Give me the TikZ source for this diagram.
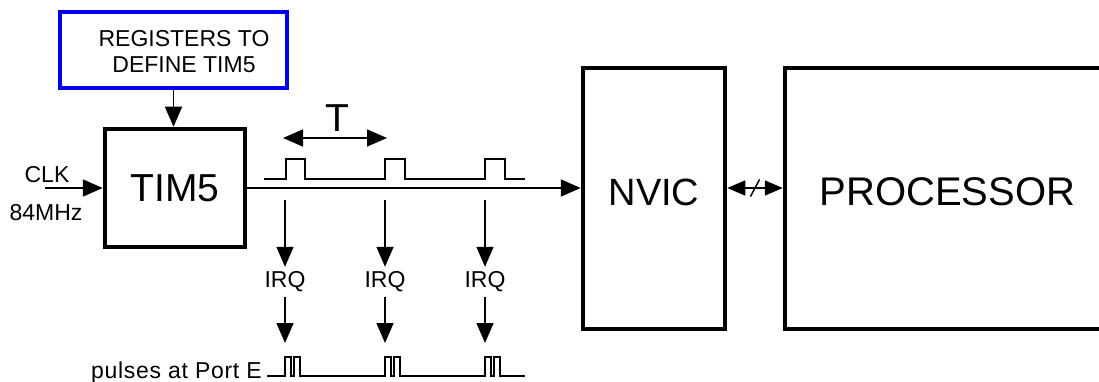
\documentclass[tikz,border=0pt]{standalone}
\usepackage{fontspec}
\setmainfont{Liberation Sans}
\usetikzlibrary{arrows.meta}
\definecolor{regblue}{RGB}{0,0,235}
\begin{document}
\begin{tikzpicture}[x=1pt,y=-1pt,
  blockbox/.style={draw, line width=4.5pt, inner sep=0pt},
  wire/.style={line width=1.5pt},
  arr/.style={wire, -{Triangle[length=20pt,width=17pt]}},
  arrboth/.style={wire, {Triangle[length=20pt,width=17pt]}-{Triangle[length=20pt,width=17pt]}},
  busarr/.style={wire, {Triangle[length=18pt,width=15pt]}-{Triangle[length=18pt,width=15pt]}},
  smalltext/.style={font=\fontsize{23}{26}\selectfont},
  bigtext/.style={font=\fontsize{39}{40}\selectfont}
]
\useasboundingbox (0,0) rectangle (1099,382);
\clip (0,0) rectangle (1099,382);

% blocks
\node[blockbox, draw=regblue, minimum width=227pt, minimum height=76pt] (regs) at (173.5,50) {};
\node[smalltext, align=center] (regstxt) at (184,52) {REGISTERS TO\\DEFINE TIM5};
\node[blockbox, bigtext, minimum width=140pt, minimum height=118pt] (tim) at (175,188) {TIM5};
\node[blockbox, font=\fontsize{38}{40}\selectfont, text depth=13pt, minimum width=142pt, minimum height=261pt] (nvic) at (654,198.5) {NVIC};
\node[blockbox, font=\fontsize{40}{40}\selectfont, text depth=13pt, minimum width=325pt, minimum height=261pt] (proc) at (947.5,198.5) {PROCESSOR};

% clock input
\node[smalltext] (clk) at (47,175) {CLK};
\node[smalltext] (mhz) at (46,213) {84MHz};
\coordinate (clkin) at (45,188);
\draw[arr] (clkin) -- (clkin -| tim.west);

% registers to TIM5
\draw[arr] (regs.south) -- (regs.south |- tim.north);

% main line and bus
\draw[arr] (tim.east) -- (tim.east -| nvic.west);
\draw[busarr] (tim.east -| nvic.east) -- coordinate (bus) (tim.east -| proc.west);
\draw[wire] ([shift={(-4.5,8.5)}]bus) -- ([shift={(4.5,-8.5)}]bus);

% period T
\coordinate (tA) at (283,138);
\coordinate (tB) at (387,138);
\draw[arrboth] (tA) -- (tB);
\node[bigtext] (tlabel) at (337,118) {T};

% timer pulse train
\draw[wire] (264,179) -- (286,179) -- (286,159) -- (305,159) -- (305,179)
  -- (385,179) -- (385,159) -- (405,159) -- (405,179)
  -- (485,179) -- (485,159) -- (505,159) -- (505,179) -- (525,179);

% IRQ arrows
\foreach \i/\x in {1/285,2/385,3/485} {
  \node[smalltext, minimum height=30pt, inner sep=0pt] (irq\i) at (\x,282) {IRQ};
  \coordinate (top\i) at (\x,200);
  \coordinate (bot\i) at (\x,343);
  \draw[arr] (top\i) -- (irq\i.north);
  \draw[arr] (irq\i.south) -- (bot\i);
}

% port E pulses
\draw[wire] (267,376) foreach \x in {285,385,485} {
    -- (\x,376) -- (\x,357) -- (\x+6,357) -- (\x+6,376)
    -- (\x+9,376) -- (\x+9,357) -- (\x+15,357) -- (\x+15,376) } -- (525,376);
\node[anchor=base east, inner sep=0pt, font=\fontsize{23}{23}\selectfont\addfontfeatures{LetterSpace=3}] (porte) at (262,378) {pulses at Port E};
\end{tikzpicture}
\end{document}
